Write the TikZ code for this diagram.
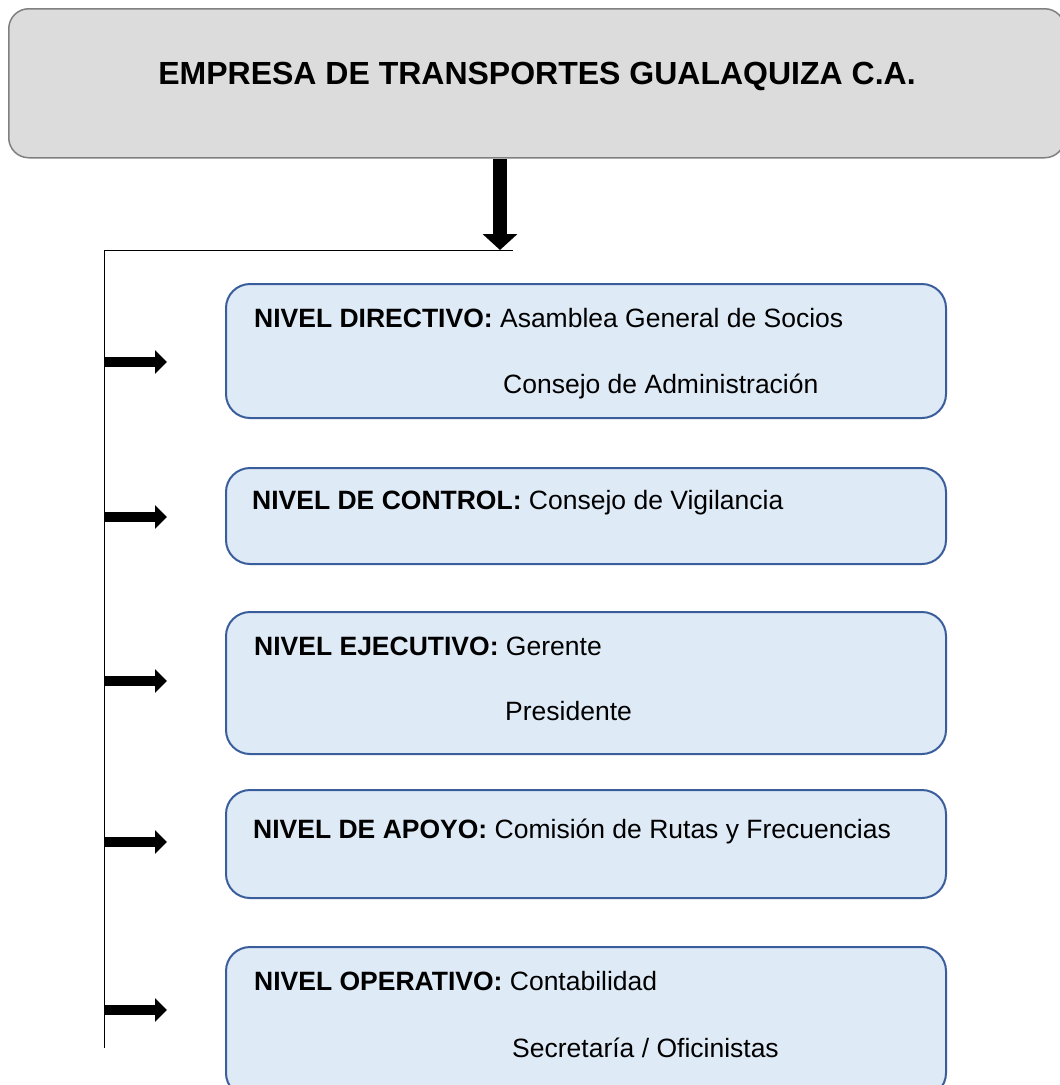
\documentclass[tikz,border=0pt]{standalone}
\usepackage{fontspec}
\setmainfont{Liberation Sans}
\usetikzlibrary{arrows.meta,positioning}
\definecolor{headfill}{HTML}{DCDCDC}
\definecolor{headdraw}{HTML}{808080}
\definecolor{levelfill}{HTML}{DEEAF6}
\definecolor{leveldraw}{HTML}{3A5D9C}
\tikzstyle{head}=[draw=headdraw,fill=headfill,line width=1.5pt,rounded corners=20pt,anchor=north west]
\tikzstyle{level}=[draw=leveldraw,fill=levelfill,line width=2pt,rounded corners=24pt,anchor=north west,minimum width=720pt]
\tikzstyle{bigarrow}=[-{Triangle[length=16pt,width=34pt]},line width=14pt]
\tikzstyle{smallarrow}=[-{Triangle[length=12pt,width=23pt]},line width=10pt]
\tikzstyle{lbl}=[anchor=base west,inner sep=0pt,font=\fontsize{26.5}{31}\selectfont]
\tikzstyle{titlelbl}=[inner sep=0pt,font=\fontsize{32}{38}\selectfont\bfseries]

\begin{document}
\begin{tikzpicture}[x=1pt,y=-1pt]
  \clip (0,0) rectangle (1060,1085);

  % TITLE
  \node[head,minimum width=1056pt,minimum height=149pt] (empresa) at (8,8) {};
  \node[titlelbl] (empresa-txt) at (537,76) {EMPRESA DE TRANSPORTES GUALAQUIZA C.A.};

  % LEVELS
  \node[level,minimum height=134pt] (directivo) at (225,283) {};
  \node[level,minimum height=96pt]  (control)   at (225,467) {};
  \node[level,minimum height=142pt] (ejecutivo) at (225,611) {};
  \node[level,minimum height=108pt] (apoyo)     at (225,789) {};
  \node[level,minimum height=150pt] (operativo) at (225,946) {};

  \node[lbl] (directivo-a) at (254,327) {\textbf{NIVEL DIRECTIVO:} Asamblea General de Socios};
  \node[lbl] (directivo-b) at (503,393) {Consejo de Administración};
  \node[lbl] (control-a)   at (252,509) {\textbf{NIVEL DE CONTROL:} Consejo de Vigilancia};
  \node[lbl] (ejecutivo-a) at (254,655) {\textbf{NIVEL EJECUTIVO:} Gerente};
  \node[lbl] (ejecutivo-b) at (505,720) {Presidente};
  \node[lbl] (apoyo-a)     at (253,838) {\textbf{NIVEL DE APOYO:} Comisión de Rutas y Frecuencias};
  \node[lbl] (operativo-a) at (254,990) {\textbf{NIVEL OPERATIVO:} Contabilidad};
  \node[lbl] (operativo-b) at (512,1057) {Secretaría / Oficinistas};

  % TRUNK
  \coordinate (drop)  at (500,250);
  \coordinate (bar-r) at (513,250);
  \coordinate (bar-l) at (104,250);
  \coordinate (bar-b) at (104,1048);
  \draw[bigarrow] (empresa.south -| drop) -- (drop);
  \draw[thin] (bar-r) -- (bar-l) -- (bar-b);

  % ARROWS
  \foreach \name/\y in {directivo/362,control/517,ejecutivo/681,apoyo/842,operativo/1010}{
    \coordinate (\name-from) at (104,\y);
    \coordinate (\name-to)   at (167,\y);
    \draw[smallarrow] (\name-from) -- (\name-to);
  }

\end{tikzpicture}
\end{document}
